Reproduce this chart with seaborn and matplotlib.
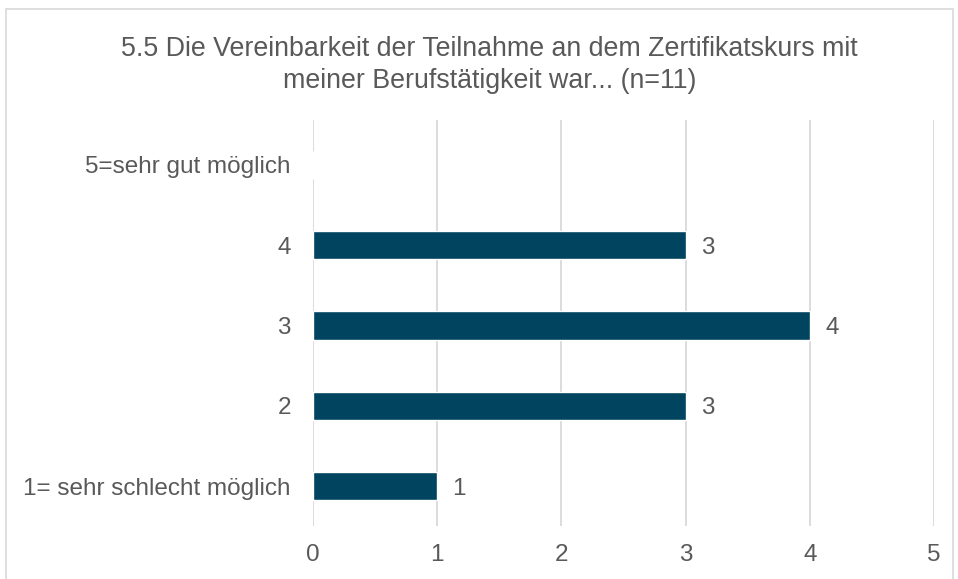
import matplotlib
matplotlib.use("Agg")
import matplotlib.pyplot as plt
import seaborn as sns
import pandas as pd
from matplotlib.patches import Rectangle

categories = ["5=sehr gut möglich", "4", "3", "2", "1= sehr schlecht möglich"]
counts = [0, 3, 4, 3, 1]
x_ticks = [0, 1, 2, 3, 4, 5]
title = "5.5 Die Vereinbarkeit der Teilnahme an dem Zertifikatskurs mit\nmeiner Berufstätigkeit war... (n=11)"

bar_color = "#00445f"
text_color = "#595959"
grid_color = "#d9d9d9"

sns.set_theme(style="white")
plt.rcParams["font.family"] = ["Liberation Sans", "DejaVu Sans"]

df = pd.DataFrame({"kategorie": categories, "anzahl": counts})

fig = plt.figure(figsize=(9.58, 5.79), dpi=100)
ax = fig.add_axes([0.3267, 0.0911, 0.975 - 0.3267, 0.7929 - 0.0911])

sns.barplot(data=df, y="kategorie", x="anzahl", order=categories,
            color=bar_color, width=0.35, orient="h", ax=ax, saturation=1)

ax.set_xlim(0, 5)
ax.set_ylim(4.5, -0.56)
ax.set_xticks(x_ticks)
ax.set_xticklabels([str(t) for t in x_ticks])
ax.set_xlabel("")
ax.set_ylabel("")
for s in ax.spines.values():
    s.set_visible(False)
ax.grid(axis="x", color=grid_color, linewidth=1.3)
ax.grid(axis="y", visible=False)
ax.set_axisbelow(True)
ax.tick_params(axis="both", length=0, labelsize=17.5, colors=text_color)
ax.tick_params(axis="y", pad=16)
ax.tick_params(axis="x", pad=13)

for i, v in enumerate(counts):
    if v > 0:
        ax.annotate(str(v), xy=(v, i), xytext=(11, 0), textcoords="offset points",
                    va="center_baseline", ha="left", fontsize=17.5, color=text_color)

fig.text(0.511, 0.887, title, ha="center", va="center", fontsize=19.3,
         color=text_color, linespacing=1.3)

fig.patches.append(Rectangle((5.5 / 958, -0.02), 947 / 958, 1 - 8.5 / 579 + 0.02,
                             transform=fig.transFigure, fill=False,
                             edgecolor=grid_color, linewidth=1.2))

fig.savefig("out.png", dpi=100)
